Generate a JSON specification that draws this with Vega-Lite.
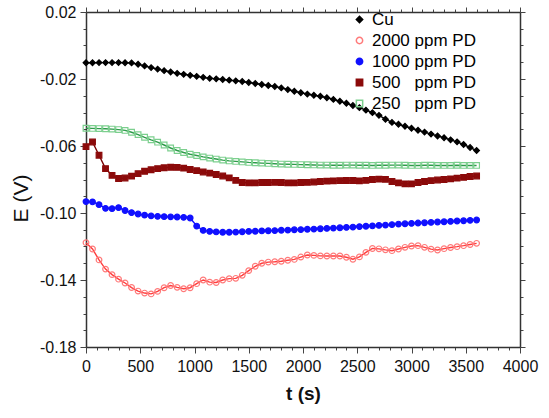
{
  "$schema": "https://vega.github.io/schema/vega-lite/v6.json",
  "width": 434,
  "height": 335,
  "autosize": {"type": "none"},
  "padding": {"left": 86, "top": 12, "right": 29, "bottom": 71},
  "background": "white",
  "config": {
    "view": {"stroke": null},
    "font": "Liberation Sans",
    "axis": {"grid": false, "domainColor": "#333333", "domainWidth": 1.5, "tickColor": "#444444", "labelColor": "#111111", "titleColor": "#111111", "labelFont": "Liberation Sans", "titleFont": "Liberation Sans", "labelFontSize": 16, "labelOverlap": false, "labelFlush": false}
  },
  "data": {"values": [
    {"t":0,"c":-0.0103,"p2000":-0.1177,"p1000":-0.0932,"p500":-0.0604,"p250":-0.0494},
    {"t":60,"c":-0.0103,"p2000":-0.1215,"p1000":-0.0934,"p500":-0.0576,"p250":-0.0495},
    {"t":120,"c":-0.0102,"p2000":-0.1280,"p1000":-0.0950,"p500":-0.0655,"p250":-0.0496},
    {"t":180,"c":-0.0102,"p2000":-0.1335,"p1000":-0.0972,"p500":-0.0735,"p250":-0.0497},
    {"t":240,"c":-0.0102,"p2000":-0.1368,"p1000":-0.0974,"p500":-0.0775,"p250":-0.0499},
    {"t":300,"c":-0.0102,"p2000":-0.1395,"p1000":-0.0968,"p500":-0.0794,"p250":-0.0502},
    {"t":360,"c":-0.0103,"p2000":-0.1418,"p1000":-0.0985,"p500":-0.0791,"p250":-0.0507},
    {"t":420,"c":-0.0104,"p2000":-0.1445,"p1000":-0.0998,"p500":-0.0780,"p250":-0.0518},
    {"t":480,"c":-0.0112,"p2000":-0.1466,"p1000":-0.1006,"p500":-0.0765,"p250":-0.0532},
    {"t":540,"c":-0.0122,"p2000":-0.1478,"p1000":-0.1013,"p500":-0.0751,"p250":-0.0548},
    {"t":600,"c":-0.0132,"p2000":-0.1483,"p1000":-0.1017,"p500":-0.0742,"p250":-0.0563},
    {"t":660,"c":-0.0141,"p2000":-0.1468,"p1000":-0.1020,"p500":-0.0735,"p250":-0.0577},
    {"t":720,"c":-0.0150,"p2000":-0.1446,"p1000":-0.1022,"p500":-0.0730,"p250":-0.0594},
    {"t":780,"c":-0.0158,"p2000":-0.1433,"p1000":-0.1023,"p500":-0.0727,"p250":-0.0612},
    {"t":840,"c":-0.0166,"p2000":-0.1444,"p1000":-0.1024,"p500":-0.0728,"p250":-0.0627},
    {"t":900,"c":-0.0172,"p2000":-0.1452,"p1000":-0.1026,"p500":-0.0732,"p250":-0.0639},
    {"t":960,"c":-0.0178,"p2000":-0.1446,"p1000":-0.1030,"p500":-0.0740,"p250":-0.0649},
    {"t":1020,"c":-0.0184,"p2000":-0.1422,"p1000":-0.1078,"p500":-0.0747,"p250":-0.0657},
    {"t":1080,"c":-0.0190,"p2000":-0.1400,"p1000":-0.1104,"p500":-0.0755,"p250":-0.0665},
    {"t":1140,"c":-0.0196,"p2000":-0.1413,"p1000":-0.1110,"p500":-0.0762,"p250":-0.0672},
    {"t":1200,"c":-0.0199,"p2000":-0.1415,"p1000":-0.1113,"p500":-0.0770,"p250":-0.0678},
    {"t":1260,"c":-0.0203,"p2000":-0.1400,"p1000":-0.1115,"p500":-0.0779,"p250":-0.0684},
    {"t":1320,"c":-0.0207,"p2000":-0.1392,"p1000":-0.1115,"p500":-0.0790,"p250":-0.0689},
    {"t":1380,"c":-0.0211,"p2000":-0.1390,"p1000":-0.1114,"p500":-0.0805,"p250":-0.0692},
    {"t":1440,"c":-0.0215,"p2000":-0.1372,"p1000":-0.1112,"p500":-0.0818,"p250":-0.0695},
    {"t":1500,"c":-0.0221,"p2000":-0.1344,"p1000":-0.1110,"p500":-0.0820,"p250":-0.0698},
    {"t":1560,"c":-0.0227,"p2000":-0.1318,"p1000":-0.1109,"p500":-0.0820,"p250":-0.0700},
    {"t":1620,"c":-0.0233,"p2000":-0.1300,"p1000":-0.1107,"p500":-0.0818,"p250":-0.0702},
    {"t":1680,"c":-0.0239,"p2000":-0.1293,"p1000":-0.1106,"p500":-0.0818,"p250":-0.0704},
    {"t":1740,"c":-0.0245,"p2000":-0.1291,"p1000":-0.1105,"p500":-0.0817,"p250":-0.0706},
    {"t":1800,"c":-0.0253,"p2000":-0.1288,"p1000":-0.1103,"p500":-0.0818,"p250":-0.0708},
    {"t":1860,"c":-0.0263,"p2000":-0.1282,"p1000":-0.1102,"p500":-0.0820,"p250":-0.0709},
    {"t":1920,"c":-0.0273,"p2000":-0.1277,"p1000":-0.1100,"p500":-0.0820,"p250":-0.0710},
    {"t":1980,"c":-0.0282,"p2000":-0.1263,"p1000":-0.1099,"p500":-0.0818,"p250":-0.0711},
    {"t":2040,"c":-0.0290,"p2000":-0.1251,"p1000":-0.1097,"p500":-0.0817,"p250":-0.0712},
    {"t":2100,"c":-0.0297,"p2000":-0.1253,"p1000":-0.1096,"p500":-0.0815,"p250":-0.0713},
    {"t":2160,"c":-0.0303,"p2000":-0.1256,"p1000":-0.1094,"p500":-0.0812,"p250":-0.0714},
    {"t":2220,"c":-0.0312,"p2000":-0.1257,"p1000":-0.1092,"p500":-0.0810,"p250":-0.0714},
    {"t":2280,"c":-0.0322,"p2000":-0.1257,"p1000":-0.1090,"p500":-0.0808,"p250":-0.0715},
    {"t":2340,"c":-0.0333,"p2000":-0.1257,"p1000":-0.1088,"p500":-0.0807,"p250":-0.0715},
    {"t":2400,"c":-0.0345,"p2000":-0.1264,"p1000":-0.1086,"p500":-0.0806,"p250":-0.0714},
    {"t":2460,"c":-0.0358,"p2000":-0.1276,"p1000":-0.1084,"p500":-0.0806,"p250":-0.0714},
    {"t":2520,"c":-0.0371,"p2000":-0.1262,"p1000":-0.1081,"p500":-0.0808,"p250":-0.0715},
    {"t":2580,"c":-0.0386,"p2000":-0.1235,"p1000":-0.1079,"p500":-0.0805,"p250":-0.0715},
    {"t":2640,"c":-0.0401,"p2000":-0.1212,"p1000":-0.1077,"p500":-0.0800,"p250":-0.0716},
    {"t":2700,"c":-0.0417,"p2000":-0.1214,"p1000":-0.1074,"p500":-0.0798,"p250":-0.0715},
    {"t":2760,"c":-0.0440,"p2000":-0.1220,"p1000":-0.1072,"p500":-0.0799,"p250":-0.0715},
    {"t":2820,"c":-0.0459,"p2000":-0.1225,"p1000":-0.1069,"p500":-0.0812,"p250":-0.0714},
    {"t":2880,"c":-0.0470,"p2000":-0.1215,"p1000":-0.1066,"p500":-0.0820,"p250":-0.0714},
    {"t":2940,"c":-0.0482,"p2000":-0.1205,"p1000":-0.1064,"p500":-0.0826,"p250":-0.0715},
    {"t":3000,"c":-0.0494,"p2000":-0.1197,"p1000":-0.1062,"p500":-0.0826,"p250":-0.0716},
    {"t":3060,"c":-0.0506,"p2000":-0.1195,"p1000":-0.1060,"p500":-0.0818,"p250":-0.0716},
    {"t":3120,"c":-0.0517,"p2000":-0.1205,"p1000":-0.1058,"p500":-0.0812,"p250":-0.0715},
    {"t":3180,"c":-0.0529,"p2000":-0.1216,"p1000":-0.1056,"p500":-0.0807,"p250":-0.0715},
    {"t":3240,"c":-0.0540,"p2000":-0.1221,"p1000":-0.1054,"p500":-0.0803,"p250":-0.0716},
    {"t":3300,"c":-0.0551,"p2000":-0.1213,"p1000":-0.1052,"p500":-0.0800,"p250":-0.0716},
    {"t":3360,"c":-0.0563,"p2000":-0.1206,"p1000":-0.1050,"p500":-0.0796,"p250":-0.0716},
    {"t":3420,"c":-0.0575,"p2000":-0.1201,"p1000":-0.1048,"p500":-0.0792,"p250":-0.0715},
    {"t":3480,"c":-0.0591,"p2000":-0.1195,"p1000":-0.1046,"p500":-0.0787,"p250":-0.0716},
    {"t":3540,"c":-0.0609,"p2000":-0.1188,"p1000":-0.1044,"p500":-0.0782,"p250":-0.0716},
    {"t":3600,"c":-0.0627,"p2000":-0.1181,"p1000":-0.1042,"p500":-0.0779,"p250":-0.0716}
  ]},
  "transform": [{"fold": ["c", "p2000", "p1000", "p500", "p250"], "as": ["series", "E"]}],
  "layer": [
    {
      "mark": {"type": "line", "strokeWidth": 1.4},
      "encoding": {
        "x": {"field": "t", "type": "quantitative", "scale": {"domain": [0, 4000], "nice": false},
          "axis": {"orient": "bottom", "values": [0,100,200,300,400,500,600,700,800,900,1000,1100,1200,1300,1400,1500,1600,1700,1800,1900,2000,2100,2200,2300,2400,2500,2600,2700,2800,2900,3000,3100,3200,3300,3400,3500,3600,3700,3800,3900,4000],
            "format": "d", "labelExpr": "datum.value % 500 == 0 ? datum.label : ''",
            "tickSize": {"condition": {"test": "datum.value % 500 == 0", "value": 6}, "value": 3},
            "labelPadding": 5, "title": "t (s)", "titleFontSize": 19, "titleFontWeight": "bold", "titlePadding": 10}},
        "y": {"field": "E", "type": "quantitative", "scale": {"domain": [-0.18, 0.02], "nice": false, "zero": false},
          "axis": {"orient": "left", "values": [-0.18,-0.17,-0.16,-0.15,-0.14,-0.13,-0.12,-0.11,-0.1,-0.09,-0.08,-0.07,-0.06,-0.05,-0.04,-0.03,-0.02,-0.01,0,0.01,0.02],
            "labelExpr": "abs(round(datum.value*100)) % 4 == 2 ? replace(format(datum.value, '.2f'), '\u2212', '-') : ''",
            "tickSize": {"condition": {"test": "abs(round(datum.value*100)) % 4 == 2", "value": 6}, "value": 3},
            "labelPadding": 4, "title": "E (V)", "titleFontSize": 21, "titleFontWeight": "normal", "titlePadding": 8, "titleY": 186}},
        "color": {"field": "series", "type": "nominal",
          "scale": {"domain": ["c", "p1000", "p2000", "p250", "p500"], "range": ["#000000", "#1010ff", "#ff3b3b", "#2e9a4a", "#7a0000"]},
          "legend": null}
      }
    },
    {
      "mark": {"type": "point", "opacity": 1, "strokeWidth": 1.2, "size": 32},
      "encoding": {
        "x": {"field": "t", "type": "quantitative",
          "axis": {"orient": "top", "values": [0,100,200,300,400,500,600,700,800,900,1000,1100,1200,1300,1400,1500,1600,1700,1800,1900,2000,2100,2200,2300,2400,2500,2600,2700,2800,2900,3000,3100,3200,3300,3400,3500,3600,3700,3800,3900,4000],
            "labels": false, "title": null,
            "tickSize": {"condition": {"test": "datum.value % 500 == 0", "value": 5}, "value": 3}}},
        "y": {"field": "E", "type": "quantitative",
          "axis": {"orient": "right", "values": [-0.18,-0.17,-0.16,-0.15,-0.14,-0.13,-0.12,-0.11,-0.1,-0.09,-0.08,-0.07,-0.06,-0.05,-0.04,-0.03,-0.02,-0.01,0,0.01,0.02],
            "labels": false, "title": null,
            "tickSize": {"condition": {"test": "abs(round(datum.value*100)) % 4 == 2", "value": 5}, "value": 3}}},
        "shape": {"field": "series", "type": "nominal",
          "scale": {"domain": ["c", "p2000", "p1000", "p500", "p250"], "range": ["diamond", "circle", "circle", "square", "square"]},
          "legend": {"title": null, "orient": "none", "legendX": 265, "legendY": -1, "padding": 0, "rowPadding": 3,
            "labelFont": "Liberation Sans", "labelFontSize": 17, "symbolSize": 40, "symbolStrokeWidth": 1.5,
            "labelExpr": "datum.value == 'c' ? 'Cu' : datum.value == 'p2000' ? '2000 ppm PD' : datum.value == 'p1000' ? '1000 ppm PD' : datum.value == 'p500' ? '500\u00a0\u00a0 ppm PD' : '250\u00a0\u00a0 ppm PD'",
            "encode": {
              "symbols": {"x": {"value": 152}},
              "labels": {"x": {"value": 0}, "fill": {"value": {"expr": "datum.value == 'c' ? '#000000' : datum.value == 'p2000' ? '#ff2b2b' : datum.value == 'p1000' ? '#3a3ae6' : datum.value == 'p500' ? '#6a2236' : '#2fb063'"}}}
            }}},
        "stroke": {"field": "series", "type": "nominal",
          "scale": {"domain": ["c", "p2000", "p1000", "p500", "p250"], "range": ["#000000", "#ff7a7a", "#1010ff", "#8b0a0a", "#7ccf8e"]},
          "legend": {"title": null, "orient": "none", "legendX": 265, "legendY": -1, "padding": 0, "rowPadding": 3,
            "labelFont": "Liberation Sans", "labelFontSize": 17, "symbolSize": 40, "symbolStrokeWidth": 1.5,
            "labelExpr": "datum.value == 'c' ? 'Cu' : datum.value == 'p2000' ? '2000 ppm PD' : datum.value == 'p1000' ? '1000 ppm PD' : datum.value == 'p500' ? '500\u00a0\u00a0 ppm PD' : '250\u00a0\u00a0 ppm PD'",
            "encode": {
              "symbols": {"x": {"value": 152}},
              "labels": {"x": {"value": 0}, "fill": {"value": {"expr": "datum.value == 'c' ? '#000000' : datum.value == 'p2000' ? '#ff2b2b' : datum.value == 'p1000' ? '#3a3ae6' : datum.value == 'p500' ? '#6a2236' : '#2fb063'"}}}
            }}},
        "fill": {"field": "series", "type": "nominal",
          "scale": {"domain": ["c", "p2000", "p1000", "p500", "p250"], "range": ["#000000", "transparent", "#1010ff", "#8b0a0a", "transparent"]},
          "legend": {"title": null, "orient": "none", "legendX": 265, "legendY": -1, "padding": 0, "rowPadding": 3,
            "labelFont": "Liberation Sans", "labelFontSize": 17, "symbolSize": 40, "symbolStrokeWidth": 1.5,
            "labelExpr": "datum.value == 'c' ? 'Cu' : datum.value == 'p2000' ? '2000 ppm PD' : datum.value == 'p1000' ? '1000 ppm PD' : datum.value == 'p500' ? '500\u00a0\u00a0 ppm PD' : '250\u00a0\u00a0 ppm PD'",
            "encode": {
              "symbols": {"x": {"value": 152}},
              "labels": {"x": {"value": 0}, "fill": {"value": {"expr": "datum.value == 'c' ? '#000000' : datum.value == 'p2000' ? '#ff2b2b' : datum.value == 'p1000' ? '#3a3ae6' : datum.value == 'p500' ? '#6a2236' : '#2fb063'"}}}
            }}}
      }
    }
  ],
  "resolve": {"axis": {"x": "independent", "y": "independent"}}
}
